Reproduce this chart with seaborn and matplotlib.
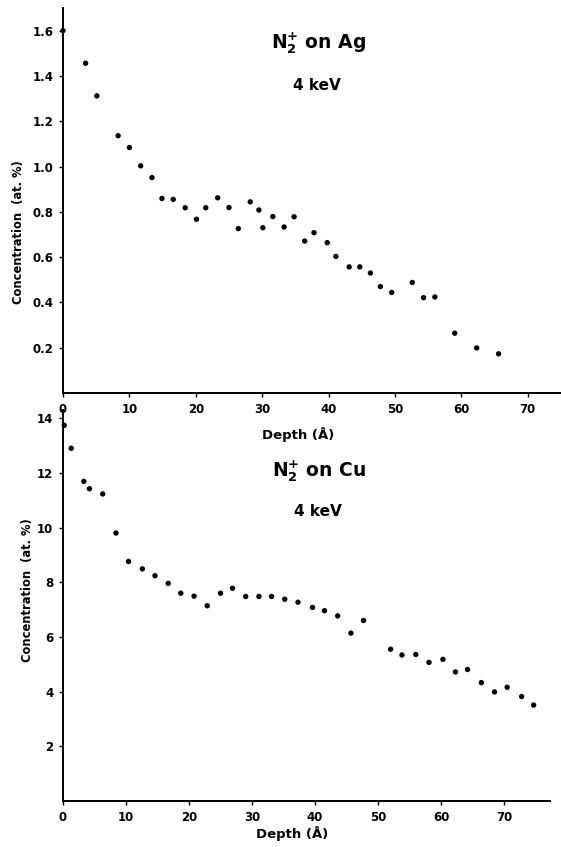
import matplotlib
matplotlib.use("Agg")
import pandas as pd
import matplotlib.pyplot as plt
import seaborn as sns

# N2+ implanted in Ag, 4 keV
ag_depth = [0.0, 3.4, 5.1, 8.3, 10.0, 11.7, 13.4, 14.9, 16.6, 18.4, 20.1, 21.5,
            23.3, 25.0, 26.4, 28.2, 29.5, 30.1, 31.6, 33.3, 34.8, 36.4, 37.8,
            39.8, 41.1, 43.1, 44.7, 46.3, 47.8, 49.5, 52.6, 54.3, 56.0, 59.0,
            62.3, 65.6]
ag_conc = [1.60, 1.456, 1.312, 1.136, 1.084, 1.003, 0.951, 0.859, 0.855, 0.818,
           0.767, 0.818, 0.862, 0.819, 0.726, 0.844, 0.808, 0.730, 0.779, 0.733,
           0.778, 0.671, 0.708, 0.664, 0.603, 0.557, 0.557, 0.530, 0.470, 0.444,
           0.488, 0.421, 0.424, 0.264, 0.199, 0.173]

# N2+ implanted in Cu, 4 keV
cu_depth = [0.2, 1.3, 3.3, 4.2, 6.3, 8.4, 10.4, 12.6, 14.6, 16.7, 18.7, 20.8,
            22.9, 25.0, 26.9, 29.0, 31.1, 33.1, 35.2, 37.3, 39.6, 41.5, 43.6,
            45.7, 47.7, 52.0, 53.8, 56.0, 58.1, 60.3, 62.3, 64.2, 66.4, 68.5,
            70.5, 72.8, 74.7]
cu_conc = [13.74, 12.90, 11.69, 11.42, 11.23, 9.80, 8.76, 8.49, 8.24, 7.96,
           7.60, 7.49, 7.14, 7.60, 7.78, 7.48, 7.48, 7.48, 7.38, 7.27, 7.08,
           6.96, 6.77, 6.14, 6.60, 5.55, 5.34, 5.36, 5.07, 5.18, 4.72, 4.81,
           4.33, 3.99, 4.16, 3.82, 3.51]

x_ticks = [0, 10, 20, 30, 40, 50, 60, 70]
ag_yticks = [0.2, 0.4, 0.6, 0.8, 1.0, 1.2, 1.4, 1.6]
cu_yticks = [2, 4, 6, 8, 10, 12, 14]

sns.set_style("ticks")
plt.rcParams["font.family"] = ["DejaVu Sans"]
plt.rcParams["mathtext.fontset"] = "dejavusans"
for key in ["text.color", "axes.labelcolor", "xtick.color", "ytick.color", "axes.edgecolor"]:
    plt.rcParams[key] = "black"

W, H = 561, 847
fig = plt.figure(figsize=(W / 100, H / 100), dpi=100)


def add_axes_px(left, top, right, bottom):
    return fig.add_axes([left / W, 1 - bottom / H, (right - left) / W, (bottom - top) / H])


def draw_panel(ax, depth, conc, yticks, xlim, ylim, xlab_pos, ylab_pos):
    df = pd.DataFrame({"depth": depth, "conc": conc})
    sns.scatterplot(data=df, x="depth", y="conc", color="black", s=15,
                    edgecolor="none", legend=False, ax=ax, clip_on=False)
    ax.set_xlim(*xlim)
    ax.set_ylim(*ylim)
    ax.set_xticks(x_ticks)
    ax.set_yticks(yticks)
    ax.set_yticklabels([f"{v:g}" if isinstance(v, int) else f"{v:.1f}" for v in yticks])
    ax.tick_params(direction="out", length=3, width=1, labelsize=8.5, pad=4)
    for lab in ax.get_xticklabels() + ax.get_yticklabels():
        lab.set_fontweight("bold")
    sns.despine(ax=ax)
    for side in ["left", "bottom"]:
        ax.spines[side].set_linewidth(1.4)
    ax.set_xlabel("Depth (Å)", fontsize=9.5, fontweight="bold", va="center")
    ax.set_ylabel("Concentration  (at. %)", fontsize=8.3, fontweight="bold",
                  va="center", ha="center")
    ax.xaxis.set_label_coords(*xlab_pos)
    ax.yaxis.set_label_coords(*ylab_pos)
    ax.set_facecolor("none")
    ax.grid(False)


ax1 = add_axes_px(63, 8, 561, 393)
draw_panel(ax1, ag_depth, ag_conc, ag_yticks, (0, 75), (0, 1.70),
           (0.472, -0.109), (-0.090, 0.418))

ax2 = add_axes_px(63, 410, 550, 801)
draw_panel(ax2, cu_depth, cu_conc, cu_yticks, (0, 77.3), (0, 14.3),
           (0.470, -0.082), (-0.072, 0.54))

fig.text(319 / W, 1 - 48 / H, r"$\mathbf{N}_\mathbf{2}^\mathbf{+}$ on Ag",
         ha="center", va="baseline", fontsize=13.5, fontweight="bold")
fig.text(317 / W, 1 - 85.5 / H, "4 keV", ha="center", va="center",
         fontsize=11, fontweight="bold")
fig.text(319.5 / W, 1 - 476 / H, r"$\mathbf{N}_\mathbf{2}^\mathbf{+}$ on Cu",
         ha="center", va="baseline", fontsize=13.5, fontweight="bold")
fig.text(317.5 / W, 1 - 511.5 / H, "4 keV", ha="center", va="center",
         fontsize=11, fontweight="bold")

fig.savefig("out.png", dpi=100, facecolor="white")
